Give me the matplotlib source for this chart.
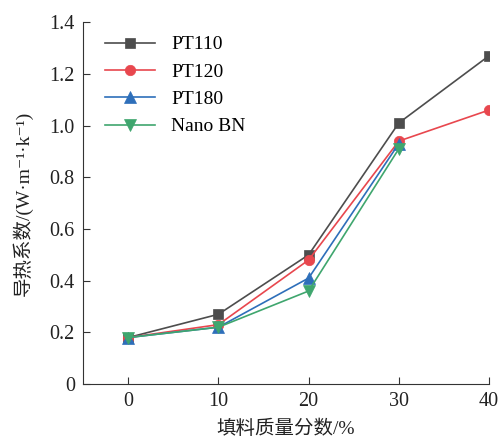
import matplotlib
matplotlib.use('Agg')
from matplotlib import pyplot as plt
from matplotlib.ticker import FuncFormatter

plt.rcParams['font.family'] = ['Liberation Serif', 'Noto Sans CJK SC', 'DejaVu Sans']

# filler content (%)
x_full = [0, 10, 20, 30, 40]
x_part = [0, 10, 20, 30]

pt110 = [0.18, 0.27, 0.50, 1.01, 1.27]
pt120 = [0.18, 0.23, 0.48, 0.94, 1.06]
pt180 = [0.18, 0.22, 0.41, 0.93]
nano_bn = [0.18, 0.22, 0.36, 0.91]

fig = plt.figure(figsize=(5.01, 4.44), dpi=100)
ax = fig.add_axes([0.166, 0.135, 0.81, 0.815])

ax.plot(x_full, pt110, c='#4d4d4d', marker='s', ms=7, mew=0.5, lw=1.2, label='PT110')
ax.plot(x_full, pt120, c='#e8474e', marker='o', ms=7.5, mew=0.5, lw=1.2, label='PT120')
ax.plot(x_part, pt180, c='#2e6fba', marker='^', ms=8, mew=0.5, lw=1.2, label='PT180')
ax.plot(x_part, nano_bn, c='#3fa66e', marker='v', ms=8, mew=0.5, lw=1.2, label='Nano BN')

ax.set_xlim(-5, 40)
ax.set_ylim(0, 1.4)
ax.set_xticks(x_full)
ax.set_yticks([0, 0.2, 0.4, 0.6, 0.8, 1.0, 1.2, 1.4])
ax.yaxis.set_major_formatter(FuncFormatter(lambda v, p: '0' if v == 0 else '%.1f' % v))

ax.spines['top'].set_visible(False)
ax.spines['right'].set_visible(False)
ax.spines['left'].set_color('#333333')
ax.spines['bottom'].set_color('#333333')
ax.tick_params(axis='both', direction='in', labelsize=14.5, length=5, color='#333333',
               labelcolor='#222222', pad=6)

ax.set_xlabel('填料质量分数/%', fontsize=14, color='#222222', labelpad=6)
ax.set_ylabel('导热系数/(W·m⁻¹·k⁻¹)', fontsize=14, color='#222222', labelpad=12)

ax.legend(loc='upper left', frameon=False, fontsize=14, handlelength=2.6,
          borderaxespad=0.3, labelspacing=0.5, bbox_to_anchor=(0.02, 1.0))

fig.savefig('out.png', dpi=100)
